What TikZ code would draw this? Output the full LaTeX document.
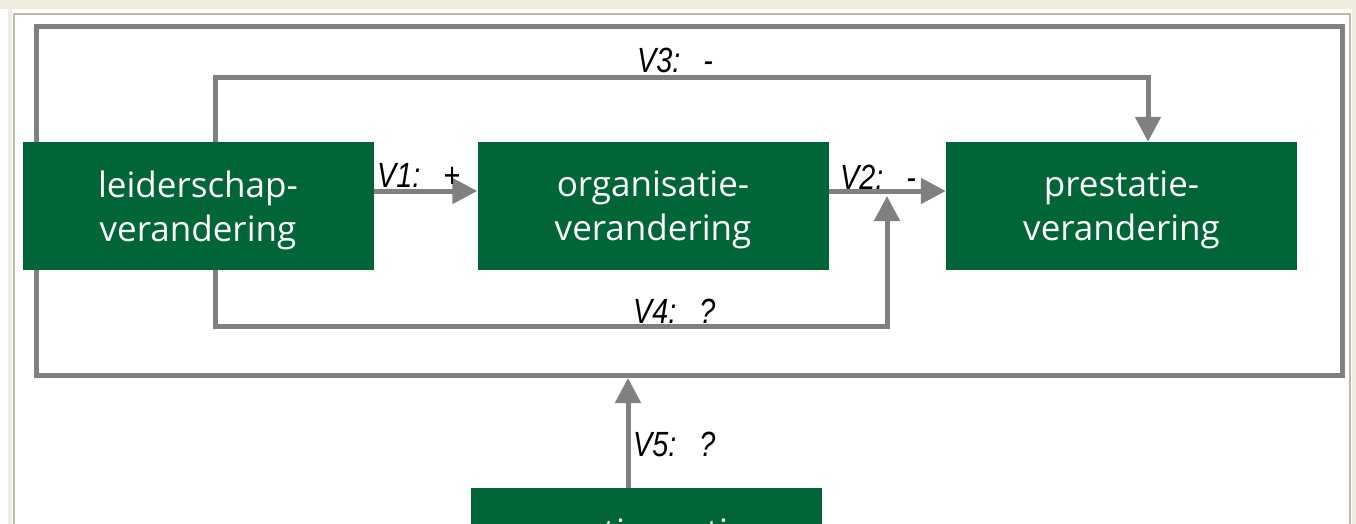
\documentclass[tikz,border=0pt]{standalone}
\usepackage{fontspec}
\setmainfont{Liberation Sans}
\newfontfamily\boxfont{Open Sans}
\newfontfamily\lblfont[FakeStretch=0.82]{Liberation Sans}
\usetikzlibrary{arrows.meta}
\definecolor{boxgreen}{RGB}{0,102,56}
\definecolor{linegrey}{RGB}{128,128,128}
\definecolor{cream}{RGB}{240,237,224}
\definecolor{rim}{RGB}{190,186,166}
\begin{document}
\begin{tikzpicture}[x=1pt,y=-1pt,
  gbox/.style={fill=boxgreen, minimum width=351pt, minimum height=128pt,
    inner sep=0pt},
  gtext/.style={inner sep=0pt, text=white, align=center,
    font=\boxfont\fontsize{35}{44}\selectfont},
  conn/.style={draw=linegrey, line width=5pt,
    -{Triangle[length=25pt,width=25pt]}},
  frameline/.style={draw=linegrey, line width=5pt},
  lbl/.style={anchor=base west, inner sep=0pt,
    font=\lblfont\itshape\fontsize{35}{40}\selectfont},
]
\useasboundingbox (0,0) rectangle (1356,524);
\clip (0,0) rectangle (1356,524);
\fill[white] (0,0) rectangle (1356,524);

% page rim
\fill[cream] (0,0) rectangle (1356,9);
\fill[cream] (8,9) rectangle (12,524);
\fill[cream] (1352,9) rectangle (1356,524);
\draw[rim, line width=1.5pt] (14,530) -- (14,14) -- (1350,14) -- (1350,530);

% enclosing frame
\draw[frameline] (36,27) rectangle (1342,375.5);

% boxes and their captions
\node[gbox] (lead) at (198,206) {};
\node[gbox] (org)  at (653,206) {};
\node[gbox] (pres) at (1121.5,206) {};
\node[gbox] (cont) at (646,552) {};
\node[gtext] (leadt) at ([yshift=-4pt]lead.center) {leiderschap-\\verandering};
\node[gtext] (orgt)  at ([yshift=-4pt]org.center)  {organisatie-\\verandering};
\node[gtext] (prest) at ([yshift=-4pt]pres.center) {prestatie-\\verandering};
\node[gtext] (contt) at ([yshift=-6pt]cont.center) {contingentie\\\vphantom{g}};

% direct arrows
\draw[conn] ([yshift=15pt]lead.east) -- ([yshift=15pt]org.west);
\draw[conn] ([yshift=15pt]org.east) -- ([yshift=15pt]pres.west);

% V3 route over the top
\coordinate (v3a) at (215,78);
\coordinate (v3b) at (1148,78);
\draw[conn] (v3a |- lead.north) -- (v3a) -- (v3b) -- (v3b |- pres.north);

% V4 route underneath
\coordinate (v4a) at (215,326);
\coordinate (v4b) at (887,326);
\coordinate (v4t) at (887,196);
\draw[conn] (v4a |- lead.south) -- (v4a) -- (v4b) -- (v4t);

% V5 into the frame
\coordinate (v5t) at (628,378);
\draw[conn] (v5t |- cont.north) -- (v5t);

% labels
\node[lbl] (l1) at (377,187) {V1:\hspace{23pt}+};
\node[lbl] (l2) at (840,189) {V2:\hspace{23pt}-};
\node[lbl] (l3) at (637,73)  {V3:\hspace{23pt}-};
\node[lbl] (l4) at (633,323) {V4:\hspace{23pt}?};
\node[lbl] (l5) at (633,456) {V5:\hspace{23pt}?};
\end{tikzpicture}
\end{document}
